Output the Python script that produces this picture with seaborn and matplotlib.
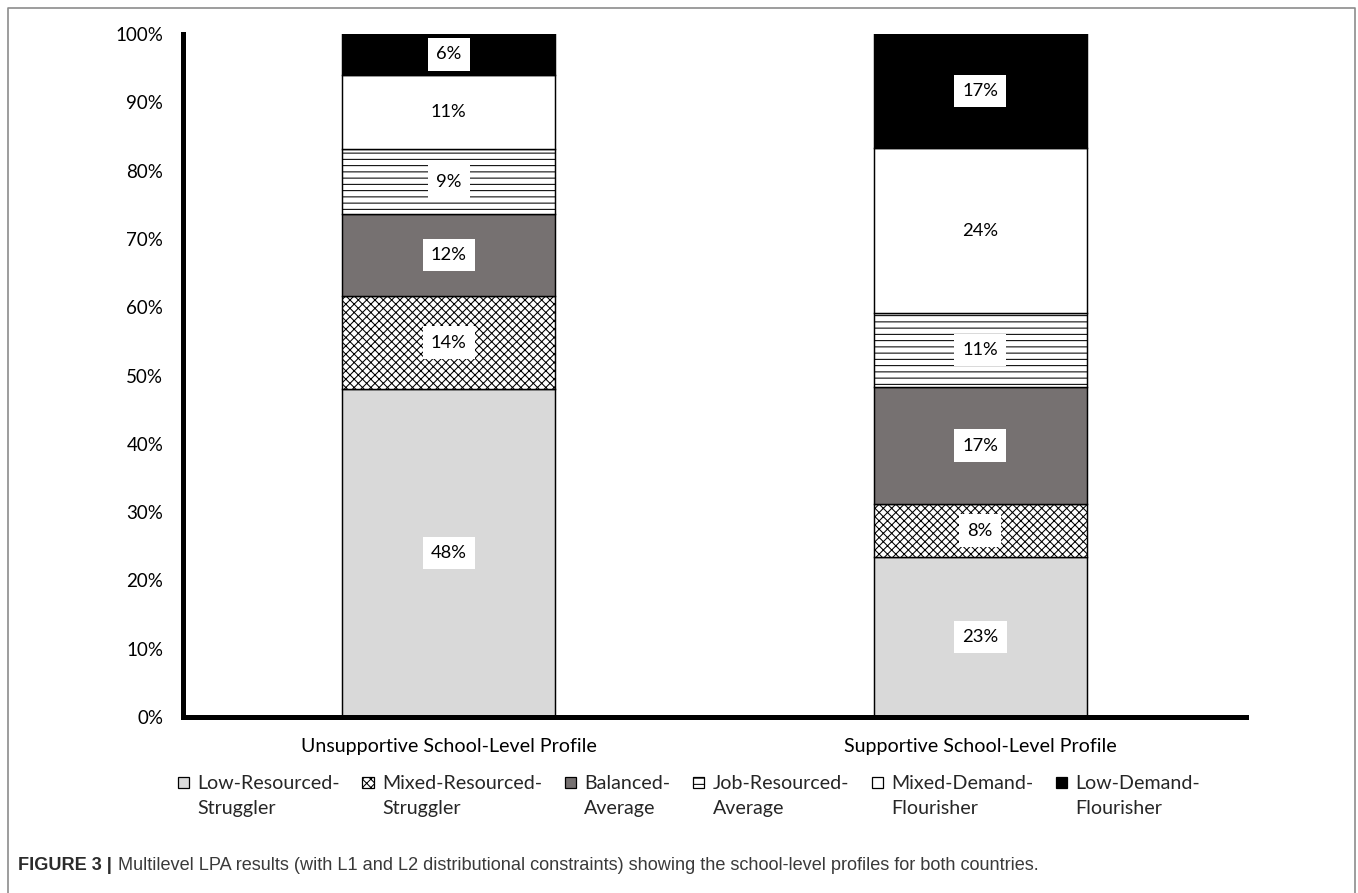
import matplotlib
matplotlib.use("Agg")
import matplotlib.pyplot as plt
import matplotlib.patches as mpatches
from matplotlib.legend_handler import HandlerPatch
from matplotlib.lines import Line2D
from matplotlib.font_manager import FontProperties
import seaborn as sns
import numpy as np

# ---------------- data ----------------
groups = ["Unsupportive School-Level Profile", "Supportive School-Level Profile"]
profiles = ["Low-Resourced-\nStruggler", "Mixed-Resourced-\nStruggler", "Balanced-\nAverage",
            "Job-Resourced-\nAverage", "Mixed-Demand-\nFlourisher", "Low-Demand-\nFlourisher"]
low_resourced_struggler = [48.0, 23.4]
mixed_resourced_struggler = [13.6, 7.8]
balanced_average = [12.1, 17.1]
job_resourced_average = [9.4, 10.8]
mixed_demand_flourisher = [10.9, 24.2]
low_demand_flourisher = [6.0, 16.7]
y_ticks = [0, 10, 20, 30, 40, 50, 60, 70, 80, 90, 100]
y_tick_labels = [f"{t}%" for t in y_ticks]
caption_bold = "FIGURE 3 |"
caption_rest = ("Multilevel LPA results (with L1 and L2 distributional constraints) "
                "showing the school-level profiles for both countries.")

series = [low_resourced_struggler, mixed_resourced_struggler, balanced_average,
          job_resourced_average, mixed_demand_flourisher, low_demand_flourisher]

# ---------------- styles ----------------
facecolors = ["#d9d9d9", "white", "#767171", "white", "white", "black"]
hatches = [None, "xxxxxx", None, "----", None, None]

W, H, DPI = 1358, 893, 150
sns.set_theme(style="white")
plt.rcParams["font.family"] = ["Lato", "DejaVu Sans"]
plt.rcParams["hatch.linewidth"] = 0.5
plt.rcParams["hatch.color"] = "black"
FS_TICK = 9.0
FS_CAT = 9.4
FS_BAR = 8.8
FS_LEG = 9.4

fig = plt.figure(figsize=(W / DPI, H / DPI), dpi=DPI)
fig.patch.set_facecolor("white")
ax = fig.add_axes([183 / W, 1 - 717 / H, (1246 - 183) / W, (717 - 34) / H])

bottom = np.zeros(len(groups))
for vals, fc, h in zip(series, facecolors, hatches):
    vals = np.asarray(vals, dtype=float)
    sns.barplot(x=groups, y=vals, bottom=bottom, color=fc, saturation=1, width=0.4,
                edgecolor="black", linewidth=0.7, hatch=h, errorbar=None, ax=ax)
    for i, v in enumerate(vals):
        ax.text(i, bottom[i] + v / 2, f"{v:.0f}%", ha="center", va="center",
                fontsize=FS_BAR, color="black", zorder=5,
                bbox=dict(boxstyle="square,pad=0.45", facecolor="white", edgecolor="none"))
    bottom = bottom + vals

ax.set_ylim(0, 100)
ax.set_xlim(-0.5, 1.5)
ax.set_yticks(y_ticks)
ax.set_yticklabels(y_tick_labels)
ax.set_xlabel("")
ax.set_ylabel("")
ax.tick_params(axis="y", length=0, pad=9.5, labelsize=FS_TICK, colors="black")
ax.tick_params(axis="x", length=0, pad=10.2, labelsize=FS_CAT, colors="black")
for s in ["top", "right"]:
    ax.spines[s].set_visible(False)
for s in ["left", "bottom"]:
    ax.spines[s].set_linewidth(2.4)
    ax.spines[s].set_color("black")
    ax.spines[s].set_capstyle("projecting")

# ---------------- legend ----------------
LS = 1.6
renderer = fig.canvas.get_renderer()
fp = FontProperties(family=["Lato", "DejaVu Sans"], size=FS_LEG)
_, lp_h, lp_d = renderer.get_text_width_height_descent("lp", fp, ismath=False)
D = LS * (lp_h - lp_d) * 72 / DPI


def square(legend, orig_handle, xdescent, ydescent, width, height, fontsize):
    s = 0.58 * fontsize
    return mpatches.Rectangle((-xdescent, D - 0.38 * fontsize), s, s)


handles = [mpatches.Patch(facecolor=fc, edgecolor="black", hatch=h, linewidth=0.6)
           for fc, h in zip(facecolors, hatches)]
leg = fig.legend(handles, profiles, loc="upper center", bbox_to_anchor=(689 / W, 1 - 775 / H),
                 ncol=6, frameon=False, handler_map={mpatches.Patch: HandlerPatch(patch_func=square)},
                 handlelength=0.58, handleheight=0.7, handletextpad=0.42, columnspacing=1.15,
                 borderpad=0, borderaxespad=0, prop=fp)
for t in leg.get_texts():
    t.set_linespacing(LS)

# ---------------- caption & frame ----------------
cap_font = ["Liberation Sans", "DejaVu Sans"]
t1 = fig.text(18 / W, 1 - 865 / H, caption_bold, ha="left", va="center", fontsize=8.7,
              fontweight="bold", family=cap_font, color="#2b2b2b")
ax.annotate(caption_rest, xy=(1, 0.5), xycoords=t1, xytext=(3, 0), textcoords="offset points",
            ha="left", va="center", fontsize=8.7, family=cap_font, color="#3a3a3a",
            annotation_clip=False)

fig.add_artist(Line2D([8 / W, 8 / W, 1355 / W, 1355 / W], [0, 1 - 8 / H, 1 - 8 / H, 0],
                      transform=fig.transFigure, color="#8c8c8c", lw=0.8))

fig.savefig("out.png", dpi=DPI)
